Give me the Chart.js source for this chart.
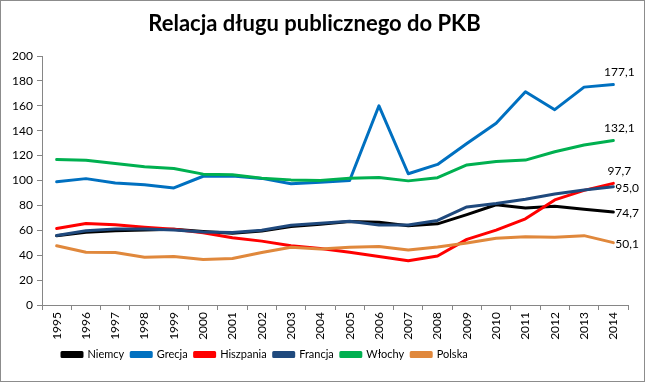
<!DOCTYPE html>
<html>
<head>
<meta charset="utf-8">
<script src="https://cdn.jsdelivr.net/npm/chart.js@4"></script>
<style>
html,body{margin:0;padding:0;background:#fff;}
#wrap{width:645px;height:382px;box-sizing:border-box;border:1px solid #8c8c8c;}
canvas{display:block;}
</style>
</head>
<body>
<div id="wrap"><canvas id="c" width="643" height="380"></canvas></div>
<script>
const years = ['1995','1996','1997','1998','1999','2000','2001','2002','2003','2004','2005','2006','2007','2008','2009','2010','2011','2012','2013','2014'];
const niemcy    = [55.6,58.4,59.7,60.3,60.9,59.1,57.7,59.4,63.1,64.8,67.0,66.5,63.7,65.2,72.6,80.5,77.9,79.3,77.0,74.7];
const grecja    = [99.0,101.5,98.0,96.5,94.0,103.4,103.7,101.7,97.4,98.6,100.0,160.0,105.4,112.9,129.7,146.0,171.3,156.9,175.0,177.1];
const hiszpania = [61.5,65.5,64.5,62.5,60.9,58.0,54.0,51.3,47.6,45.3,42.3,38.9,35.5,39.4,52.7,60.1,69.2,84.4,92.1,97.7];
const francja   = [55.8,59.7,61.1,61.0,60.2,58.7,58.2,60.0,64.1,65.7,67.2,64.2,64.2,67.9,78.8,81.5,85.0,89.2,92.4,95.0];
const wlochy    = [116.9,116.3,113.7,111.1,109.7,105.1,104.7,101.9,100.5,100.1,101.9,102.5,99.7,102.3,112.5,115.3,116.4,123.1,128.5,132.1];
const polska    = [47.6,42.3,42.1,38.3,38.9,36.5,37.3,42.1,46.4,45.0,46.4,46.9,44.2,46.6,49.8,53.6,54.8,54.4,55.7,50.1];
const yTicks = [0,20,40,60,80,100,120,140,160,180,200];

const seriesNames = ['Niemcy','Grecja','Hiszpania','Francja','Włochy','Polska'];
const seriesData = [niemcy,grecja,hiszpania,francja,wlochy,polska];
const seriesColors = ['#000000','#0070C0','#FF0000','#1F497D','#00B050','#E0883C'];
// label placement of last value: 'above' or 'right'
const labelPlace = ['right','above','above','right','above','right'];

const datasets = seriesNames.map((n,i)=>({
  label:n, data:seriesData[i], borderColor:seriesColors[i], backgroundColor:seriesColors[i],
  borderWidth:3, pointRadius:0, tension:0, fill:false, order:5-i,
  borderJoinStyle:'round', borderCapStyle:'round'
}));

const lastLabels = {
  id:'lastLabels',
  afterDatasetsDraw(chart){
    const ctx = chart.ctx;
    ctx.save();
    ctx.font = '12px Lato';
    ctx.fillStyle = '#000';
    chart.data.datasets.forEach((ds,i)=>{
      const meta = chart.getDatasetMeta(i);
      const pt = meta.data[meta.data.length-1];
      const v = ds.data[ds.data.length-1];
      const txt = v.toFixed(1).replace('.',',');
      if(labelPlace[i]==='above'){
        ctx.textAlign='center'; ctx.textBaseline='middle';
        ctx.fillText(txt, pt.x+6, pt.y-12);
      } else {
        ctx.textAlign='left'; ctx.textBaseline='middle';
        ctx.fillText(txt, pt.x+2, pt.y+1);
      }
    });
    ctx.restore();
  }
};

const legendShift = {
  id:'legendShift',
  afterLayout(chart){
    const lg = chart.legend;
    if(lg){ const w = lg.right-lg.left; lg.left = 54; lg.right = 54 + w; }
  }
};

new Chart(document.getElementById('c'), {
  type:'line',
  data:{labels:years, datasets},
  plugins:[lastLabels, legendShift],
  options:{
    responsive:false, animation:false,
    layout:{padding:{left:0,right:16,top:0,bottom:11}},
    plugins:{
      title:{display:true, text:'Relacja długu publicznego do PKB', color:'#000',
        font:{family:'Lato', size:22, weight:'bold', lineHeight:1.2}, padding:{top:10,bottom:18.6}},
      legend:{position:'bottom', align:'start',
        labels:{boxWidth:20, boxHeight:4, padding:7, color:'#000', font:{family:'Lato', size:11},
          sort:(a,b)=>a.datasetIndex-b.datasetIndex}},
      tooltip:{enabled:false}
    },
    scales:{
      x:{
        offset:true,
        grid:{display:true, drawOnChartArea:false, drawTicks:true, tickLength:5, offset:true, color:'#868686'},
        border:{color:'#868686', width:1},
        ticks:{minRotation:90, maxRotation:90, autoSkip:false, padding:2, color:'#000', font:{family:'Lato', size:12}},
        afterFit(s){ s.height = 37; }
      },
      y:{
        min:0, max:200,
        afterBuildTicks(s){ s.ticks = yTicks.map(v=>({value:v})); },
        grid:{display:true, drawOnChartArea:false, drawTicks:true, tickLength:5, color:'#868686'},
        border:{color:'#868686', width:1},
        ticks:{padding:4, color:'#000', font:{family:'Lato', size:12}},
        afterFit(s){ s.width = 41; }
      }
    }
  }
});
</script>
</body>
</html>
